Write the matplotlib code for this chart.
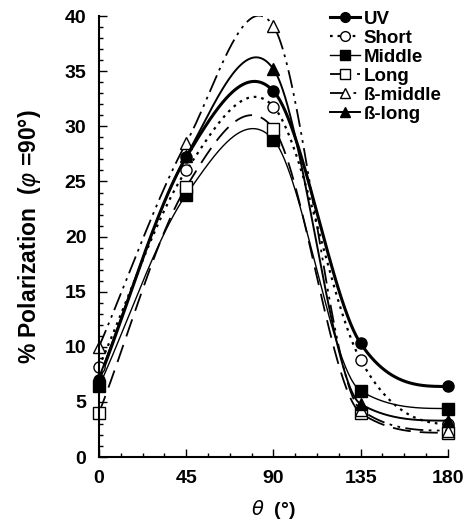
import numpy as np
import matplotlib.pyplot as plt
from matplotlib.ticker import MultipleLocator

plt.rcParams['font.family'] = ['Liberation Sans', 'DejaVu Sans']

# scattering angle (deg)
theta = [0, 45, 90, 135, 180]

# % polarization
uv = [7.0, 27.2, 33.2, 10.3, 6.4]
short = [8.2, 26.0, 31.8, 8.8, 3.0]
middle = [6.4, 23.8, 28.8, 6.0, 4.4]
long_ = [4.0, 24.5, 29.8, 4.0, 2.2]
b_middle = [10.0, 28.5, 39.1, 4.3, 2.4]
b_long = [7.2, 27.3, 35.2, 4.8, 3.3]

names = ['UV', 'Short', 'Middle', 'Long', 'ß-middle', 'ß-long']


def smooth_curve(x, y, xs):
    # cubic hermite through the points, centred slopes, limited on
    # monotone stretches so the tails don't dip
    x = np.asarray(x, float)
    y = np.asarray(y, float)
    n = len(x)
    h = np.diff(x)
    sec = np.diff(y) / h
    d = np.zeros(n)
    d[0] = sec[0]
    d[-1] = 0.0
    for i in range(1, n - 1):
        d[i] = (y[i + 1] - y[i - 1]) / (x[i + 1] - x[i - 1])
    for i in range(n - 1):
        if sec[i] == 0:
            continue
        a = d[i] / sec[i]
        b = d[i + 1] / sec[i]
        if a < 0 or b < 0:
            continue
        r = a * a + b * b
        if r > 9:
            t = 3 / np.sqrt(r)
            d[i] = t * a * sec[i]
            d[i + 1] = t * b * sec[i]
    out = np.empty_like(xs)
    for k, xv in enumerate(xs):
        i = int(np.clip(np.searchsorted(x, xv, side='right') - 1, 0, n - 2))
        t = (xv - x[i]) / h[i]
        h00 = 2 * t**3 - 3 * t**2 + 1
        h10 = t**3 - 2 * t**2 + t
        h01 = -2 * t**3 + 3 * t**2
        h11 = t**3 - t**2
        out[k] = h00 * y[i] + h10 * h[i] * d[i] + h01 * y[i + 1] + h11 * h[i] * d[i + 1]
    return out


fig = plt.figure(figsize=(4.68, 5.22), dpi=100)
ax = fig.add_axes([0.2115, 0.1245, 0.7455, 0.8445])

xs = np.linspace(0, 180, 400)

styles = [
    dict(ls='-', lw=2.2, marker='o', mfc='k'),
    dict(ls=(0, (1.2, 2.2)), lw=1.6, marker='o', mfc='white'),
    dict(ls='-', lw=1.0, marker='s', mfc='k'),
    dict(ls=(0, (10, 5)), lw=1.3, marker='s', mfc='white'),
    dict(ls=(0, (10, 3, 1.5, 3, 1.5, 3)), lw=1.3, marker='^', mfc='white'),
    dict(ls='-', lw=1.4, marker='^', mfc='k'),
]

for ys, name, st in zip([uv, short, middle, long_, b_middle, b_long], names, styles):
    curve = smooth_curve(theta, ys, xs)
    ax.plot(xs, curve, color='k', ls=st['ls'], lw=st['lw'])
    ax.plot(theta, ys, ls='none', marker=st['marker'], mfc=st['mfc'], mec='k',
            ms=8, mew=1.0, clip_on=False)
    ax.plot([], [], color='k', ls=st['ls'], lw=st['lw'], marker=st['marker'],
            mfc=st['mfc'], mec='k', ms=7, label=name)

ax.set_xlim(0, 180)
ax.set_ylim(0, 40)
ax.spines['top'].set_visible(False)
ax.spines['right'].set_visible(False)
ax.spines['left'].set_linewidth(1.5)
ax.spines['bottom'].set_linewidth(1.5)

ax.xaxis.set_major_locator(MultipleLocator(45))
ax.xaxis.set_minor_locator(MultipleLocator(11.25))
ax.yaxis.set_major_locator(MultipleLocator(5))
ax.yaxis.set_minor_locator(MultipleLocator(1))
ax.tick_params(which='both', direction='in', width=1.0)
ax.tick_params(which='major', length=6, labelsize=14, pad=9)
ax.tick_params(which='minor', length=3)
for lab in ax.get_xticklabels() + ax.get_yticklabels():
    lab.set_fontweight('bold')

ax.set_ylabel('% Polarization  ($\\varphi$ =90°)', fontsize=16.5, fontweight='bold', labelpad=16)
ax.set_xlabel('$\\theta$  (°)', fontsize=14, fontweight='bold', labelpad=8)

leg = ax.legend(loc='upper left', bbox_to_anchor=(0.64, 1.03), frameon=False,
                prop=dict(weight='bold', size=13.5), handlelength=1.6,
                handletextpad=0.2, labelspacing=0.1, borderaxespad=0)

fig.savefig('out.png', dpi=100)
